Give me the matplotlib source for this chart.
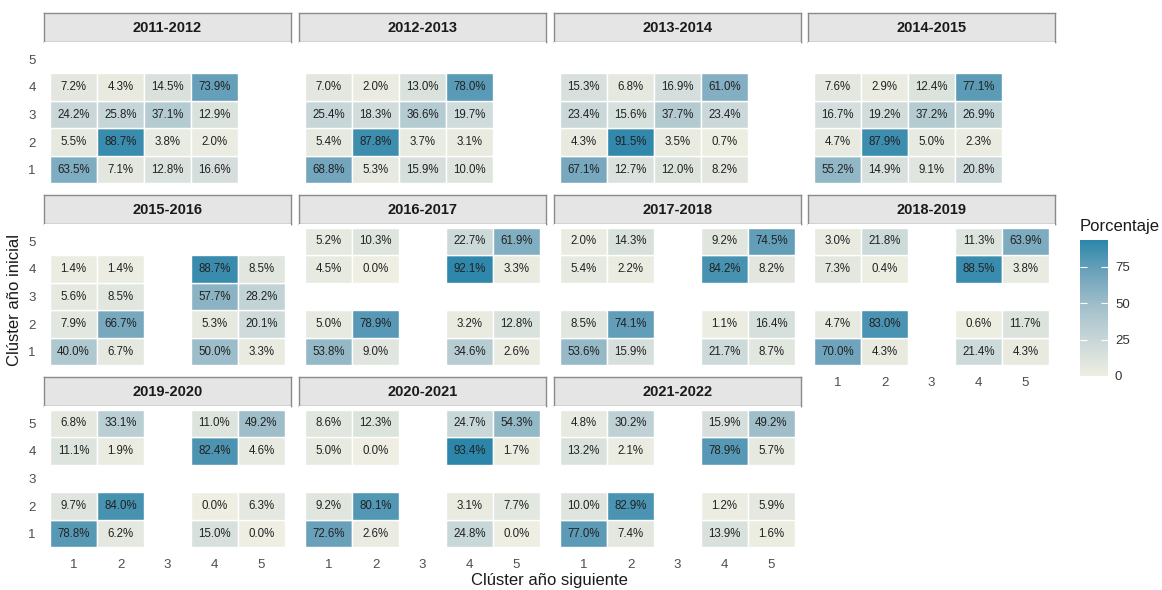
import numpy as np
import matplotlib
matplotlib.use("Agg")
import matplotlib.pyplot as plt
from matplotlib.colors import LinearSegmentedColormap, Normalize
from matplotlib.cm import ScalarMappable

plt.rcParams['font.family'] = ['Liberation Sans', 'DejaVu Sans']

nan = np.nan
clusters = [1, 2, 3, 4, 5]
periods = ["2011-2012", "2012-2013", "2013-2014", "2014-2015",
           "2015-2016", "2016-2017", "2017-2018", "2018-2019",
           "2019-2020", "2020-2021", "2021-2022"]

# rows = cluster inicial 1..5, cols = cluster siguiente 1..5 (porcentaje)
p2011_2012 = [[63.5, 7.1, 12.8, 16.6, nan],
              [5.5, 88.7, 3.8, 2.0, nan],
              [24.2, 25.8, 37.1, 12.9, nan],
              [7.2, 4.3, 14.5, 73.9, nan],
              [nan, nan, nan, nan, nan]]
p2012_2013 = [[68.8, 5.3, 15.9, 10.0, nan],
              [5.4, 87.8, 3.7, 3.1, nan],
              [25.4, 18.3, 36.6, 19.7, nan],
              [7.0, 2.0, 13.0, 78.0, nan],
              [nan, nan, nan, nan, nan]]
p2013_2014 = [[67.1, 12.7, 12.0, 8.2, nan],
              [4.3, 91.5, 3.5, 0.7, nan],
              [23.4, 15.6, 37.7, 23.4, nan],
              [15.3, 6.8, 16.9, 61.0, nan],
              [nan, nan, nan, nan, nan]]
p2014_2015 = [[55.2, 14.9, 9.1, 20.8, nan],
              [4.7, 87.9, 5.0, 2.3, nan],
              [16.7, 19.2, 37.2, 26.9, nan],
              [7.6, 2.9, 12.4, 77.1, nan],
              [nan, nan, nan, nan, nan]]
p2015_2016 = [[40.0, 6.7, nan, 50.0, 3.3],
              [7.9, 66.7, nan, 5.3, 20.1],
              [5.6, 8.5, nan, 57.7, 28.2],
              [1.4, 1.4, nan, 88.7, 8.5],
              [nan, nan, nan, nan, nan]]
p2016_2017 = [[53.8, 9.0, nan, 34.6, 2.6],
              [5.0, 78.9, nan, 3.2, 12.8],
              [nan, nan, nan, nan, nan],
              [4.5, 0.0, nan, 92.1, 3.3],
              [5.2, 10.3, nan, 22.7, 61.9]]
p2017_2018 = [[53.6, 15.9, nan, 21.7, 8.7],
              [8.5, 74.1, nan, 1.1, 16.4],
              [nan, nan, nan, nan, nan],
              [5.4, 2.2, nan, 84.2, 8.2],
              [2.0, 14.3, nan, 9.2, 74.5]]
p2018_2019 = [[70.0, 4.3, nan, 21.4, 4.3],
              [4.7, 83.0, nan, 0.6, 11.7],
              [nan, nan, nan, nan, nan],
              [7.3, 0.4, nan, 88.5, 3.8],
              [3.0, 21.8, nan, 11.3, 63.9]]
p2019_2020 = [[78.8, 6.2, nan, 15.0, 0.0],
              [9.7, 84.0, nan, 0.0, 6.3],
              [nan, nan, nan, nan, nan],
              [11.1, 1.9, nan, 82.4, 4.6],
              [6.8, 33.1, nan, 11.0, 49.2]]
p2020_2021 = [[72.6, 2.6, nan, 24.8, 0.0],
              [9.2, 80.1, nan, 3.1, 7.7],
              [nan, nan, nan, nan, nan],
              [5.0, 0.0, nan, 93.4, 1.7],
              [8.6, 12.3, nan, 24.7, 54.3]]
p2021_2022 = [[77.0, 7.4, nan, 13.9, 1.6],
              [10.0, 82.9, nan, 1.2, 5.9],
              [nan, nan, nan, nan, nan],
              [13.2, 2.1, nan, 78.9, 5.7],
              [4.8, 30.2, nan, 15.9, 49.2]]

matrices = [p2011_2012, p2012_2013, p2013_2014, p2014_2015,
            p2015_2016, p2016_2017, p2017_2018, p2018_2019,
            p2019_2020, p2020_2021, p2021_2022]

cmap = LinearSegmentedColormap.from_list(
    "porc", ["#EEEEE2", "#CAD8D9", "#A4C1CB", "#70A4BC", "#2C86AA"])
vmax = np.nanmax(np.array(matrices, dtype=float))
norm = Normalize(vmin=0, vmax=vmax)

W, H = 1162, 590
fig = plt.figure(figsize=(W / 100, H / 100), dpi=100)


def px_axes(left, top, width, height, **kw):
    return fig.add_axes([left / W, 1 - (top + height) / H, width / W, height / H], **kw)


col_left = [44, 299, 554, 808]
row_top = [13, 195, 377]
panel_w = 247
strip_h = 29
panel_h = 145
tick_color = "#4D4D4D"

for k, (name, mat) in enumerate(zip(periods, matrices)):
    r, c = divmod(k, 4)
    left, top = col_left[c], row_top[r]

    # strip
    sax = px_axes(left, top, panel_w, strip_h)
    sax.set_facecolor("#E5E5E5")
    sax.set_xticks([])
    sax.set_yticks([])
    for sp in sax.spines.values():
        sp.set_color("#8A8A8A")
        sp.set_linewidth(1.0)
    sax.text(0.5, 0.5, name, ha="center", va="center", fontsize=10.5,
             fontweight="bold", color="#1A1A1A", transform=sax.transAxes)

    # panel
    ax = px_axes(left, top + strip_h, panel_w, panel_h)
    mat = np.array(mat, dtype=float)
    for i, yv in enumerate(clusters):
        for j, xv in enumerate(clusters):
            v = mat[i, j]
            if np.isnan(v):
                continue
            ax.bar(xv, 1, bottom=yv - 0.5, width=1, color=cmap(norm(v)),
                   edgecolor="white", linewidth=1.0)
            ax.text(xv, yv, f"{v:.1f}%", ha="center", va="center",
                    fontsize=8.3, color="#222222")
    ax.set_xlim(0.37, 5.63)
    ax.set_ylim(0.37, 5.63)
    ax.set_xticks(clusters)
    ax.set_yticks(clusters)
    ax.tick_params(length=0, labelsize=9.5, labelcolor=tick_color, pad=6)
    for sp in ax.spines.values():
        sp.set_visible(False)
    if c != 0:
        ax.set_yticklabels([])
    show_x = (r == 2) or (r == 1 and c == 3)
    if not show_x:
        ax.set_xticklabels([])

fig.text(549 / W, 1 - 580 / H, "Clúster año siguiente", ha="center", va="center",
         fontsize=12, color="#1A1A1A")
fig.text(15 / W, 1 - 300 / H, "Clúster año inicial", ha="center", va="center",
         rotation=90, fontsize=12, color="#1A1A1A")

# legend
cax = px_axes(1080, 240, 28, 136)
cb = fig.colorbar(ScalarMappable(norm=norm, cmap=cmap), cax=cax, ticks=[0, 25, 50, 75])
cb.outline.set_visible(False)
cax.tick_params(which="both", left=True, right=True, direction="in", length=5,
                color="white", width=0.8, labelsize=9.5, labelcolor="#333333", pad=5)
fig.text(1080 / W, 1 - 226 / H, "Porcentaje", ha="left", va="center",
         fontsize=12, color="#1A1A1A")

fig.savefig("out.png", dpi=100)
